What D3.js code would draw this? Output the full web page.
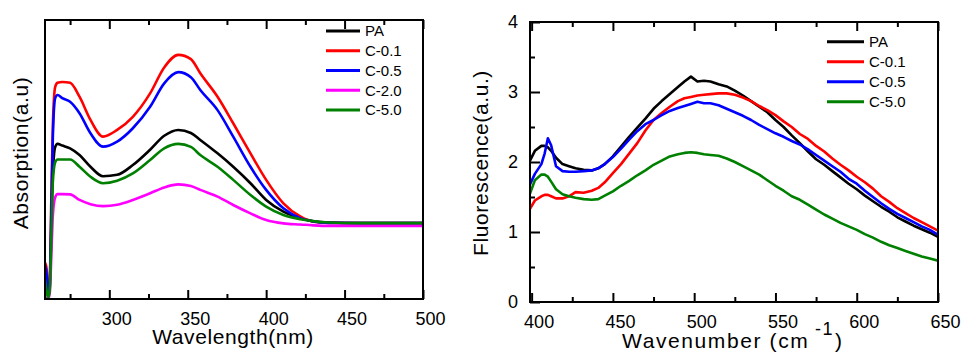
<!DOCTYPE html>
<html lang="en">
<head>
<meta charset="UTF-8">
<title>Absorption and fluorescence spectra</title>
<script src="https://d3js.org/d3.v7.min.js"></script>
<style>
  body { margin: 0; background: #fff; }
  svg { font-family: Arial, "Liberation Sans", sans-serif; }
  .tick text { font-size: 18px; fill: #000; }
  .tick line { stroke: #000; stroke-width: 2px; }
  .frame { fill: none; stroke: #000; stroke-width: 2px; }
  .curve { fill: none; stroke-width: 2.6px; stroke-linejoin: round; }
  .legend text { font-size: 15px; }
  .axis-title { font-size: 21px; letter-spacing: 0.6px; }
</style>
</head>
<body>
<svg width="966" height="358"></svg>
<script>
// ---- left panel: absorption spectra ----
const absWavelength = [259, 260, 261, 262, 263, 264, 265.5, 267, 270, 275, 281, 288, 296, 305, 315, 326, 335, 344, 352, 358, 369, 379, 390, 400, 411, 422, 430, 440, 460, 480, 500];
const absPA   = [0.08, 0.04, 0.01, 0.04, 0.25, 0.45, 0.545, 0.556, 0.55, 0.54, 0.516, 0.474, 0.44, 0.445, 0.48, 0.535, 0.585, 0.606, 0.595, 0.57, 0.522, 0.474, 0.415, 0.355, 0.313, 0.289, 0.279, 0.274, 0.272, 0.272, 0.272];
const absC01  = [0.13, 0.11, 0.02, 0.06, 0.35, 0.62, 0.76, 0.775, 0.778, 0.775, 0.725, 0.642, 0.582, 0.606, 0.653, 0.737, 0.83, 0.875, 0.86, 0.809, 0.725, 0.63, 0.522, 0.427, 0.343, 0.295, 0.277, 0.273, 0.272, 0.272, 0.272];
const absC05  = [0.12, 0.09, 0.01, 0.05, 0.30, 0.58, 0.72, 0.731, 0.72, 0.707, 0.666, 0.594, 0.546, 0.564, 0.612, 0.689, 0.773, 0.813, 0.795, 0.749, 0.677, 0.582, 0.474, 0.391, 0.325, 0.289, 0.278, 0.273, 0.272, 0.272, 0.272];
const absC20  = [0.01, 0.0, 0.0, 0.02, 0.15, 0.30, 0.365, 0.376, 0.376, 0.375, 0.355, 0.340, 0.333, 0.338, 0.355, 0.379, 0.400, 0.411, 0.405, 0.391, 0.367, 0.337, 0.307, 0.283, 0.271, 0.267, 0.264, 0.262, 0.262, 0.262, 0.262];
const absC50  = [0.07, 0.03, 0.005, 0.03, 0.22, 0.42, 0.49, 0.50, 0.50, 0.50, 0.474, 0.438, 0.415, 0.424, 0.45, 0.498, 0.54, 0.556, 0.545, 0.516, 0.474, 0.427, 0.373, 0.331, 0.301, 0.286, 0.279, 0.274, 0.272, 0.272, 0.272];
const absTicks = [300, 350, 400, 450, 500];
const absMinorTicks = [275, 325, 375, 425, 475];

// ---- right panel: fluorescence spectra ----
const fluWavenumber = [399, 402, 406, 408, 410, 412, 415, 419, 423, 427, 432, 437, 441, 445, 450, 455, 460, 465, 470, 475, 480, 485, 490, 494, 498, 502, 506, 510, 515, 520, 525, 530, 535, 540, 545, 550, 555, 560, 565, 570, 575, 580, 585, 590, 595, 600, 605, 610, 615, 620, 625, 630, 635, 640, 645, 650];
const fluPA  = [2.02, 2.16, 2.23, 2.23, 2.21, 2.16, 2.06, 1.97, 1.94, 1.91, 1.89, 1.88, 1.91, 1.97, 2.08, 2.22, 2.36, 2.49, 2.62, 2.76, 2.87, 2.97, 3.07, 3.15, 3.22, 3.15, 3.16, 3.15, 3.11, 3.08, 3.02, 2.95, 2.87, 2.79, 2.71, 2.60, 2.50, 2.38, 2.27, 2.15, 2.04, 1.96, 1.87, 1.78, 1.69, 1.61, 1.52, 1.44, 1.36, 1.29, 1.21, 1.15, 1.09, 1.04, 0.99, 0.93];
const fluC01 = [1.33, 1.45, 1.51, 1.53, 1.53, 1.51, 1.48, 1.48, 1.51, 1.57, 1.56, 1.59, 1.63, 1.71, 1.84, 1.97, 2.12, 2.27, 2.45, 2.60, 2.70, 2.79, 2.87, 2.91, 2.93, 2.95, 2.96, 2.97, 2.98, 2.98, 2.96, 2.92, 2.87, 2.80, 2.74, 2.67, 2.58, 2.50, 2.40, 2.33, 2.23, 2.15, 2.05, 1.96, 1.88, 1.79, 1.71, 1.62, 1.51, 1.43, 1.34, 1.27, 1.20, 1.14, 1.08, 1.02];
const fluC05 = [1.68, 1.83, 1.97, 2.12, 2.34, 2.24, 1.94, 1.87, 1.86, 1.86, 1.87, 1.88, 1.91, 1.97, 2.07, 2.19, 2.32, 2.44, 2.54, 2.60, 2.67, 2.73, 2.77, 2.80, 2.83, 2.86, 2.84, 2.84, 2.81, 2.76, 2.71, 2.66, 2.60, 2.53, 2.47, 2.41, 2.36, 2.30, 2.25, 2.18, 2.10, 2.02, 1.94, 1.86, 1.76, 1.69, 1.59, 1.50, 1.41, 1.33, 1.26, 1.20, 1.14, 1.08, 1.03, 0.96];
const fluC50 = [1.55, 1.74, 1.82, 1.82, 1.79, 1.72, 1.61, 1.54, 1.51, 1.49, 1.47, 1.46, 1.47, 1.52, 1.58, 1.66, 1.73, 1.81, 1.88, 1.96, 2.02, 2.08, 2.11, 2.13, 2.14, 2.13, 2.11, 2.10, 2.09, 2.05, 2.00, 1.94, 1.88, 1.82, 1.74, 1.66, 1.59, 1.51, 1.46, 1.39, 1.32, 1.25, 1.19, 1.13, 1.08, 1.03, 0.97, 0.92, 0.86, 0.81, 0.77, 0.73, 0.69, 0.65, 0.62, 0.59];
const fluXTicks = [400, 450, 500, 550, 600, 650];
const fluXMinorTicks = [425, 475, 525, 575, 625];
const fluYTicks = [0, 1, 2, 3, 4];
const fluYMinorTicks = [0.5, 1.5, 2.5, 3.5];

const svg = d3.select("svg");

function drawPanel(cfg) {
    const { box, xDomain, yDomain, series, xVals, curve, legend } = cfg;
    const x = d3.scaleLinear().domain(xDomain).range([box.x0, box.x1]);
    const y = d3.scaleLinear().domain(yDomain).range([box.y1, box.y0]);
    const g = svg.append("g");

    g.append("clipPath").attr("id", cfg.id + "-clip")
        .append("rect")
        .attr("x", box.x0).attr("y", box.y0)
        .attr("width", box.x1 - box.x0).attr("height", box.y1 - box.y0);

    // bottom major / minor ticks (inward)
    const bottom = g.append("g").attr("transform", `translate(0,${box.y1})`)
        .call(d3.axisBottom(x).tickValues(cfg.xTicks).tickSize(-9).tickPadding(13).tickFormat(d3.format("d")));
    bottom.select(".domain").remove();
    bottom.selectAll("text").attr("x", 7);
    g.append("g").attr("transform", `translate(0,${box.y1})`)
        .call(d3.axisBottom(x).tickValues(cfg.xMinor).tickSize(-5).tickFormat(""))
        .select(".domain").remove();

    // mirrored ticks on top
    g.append("g").attr("transform", `translate(0,${box.y0})`)
        .call(d3.axisTop(x).tickValues(cfg.xTicks).tickSize(-9).tickFormat(""))
        .select(".domain").remove();
    g.append("g").attr("transform", `translate(0,${box.y0})`)
        .call(d3.axisTop(x).tickValues(cfg.xMinor).tickSize(-5).tickFormat(""))
        .select(".domain").remove();

    if (cfg.yTicks) {
        g.append("g").attr("transform", `translate(${box.x0},0)`)
            .call(d3.axisLeft(y).tickValues(cfg.yTicks).tickSize(-10).tickPadding(12).tickFormat(d3.format("d")))
            .select(".domain").remove();
        g.append("g").attr("transform", `translate(${box.x0},0)`)
            .call(d3.axisLeft(y).tickValues(cfg.yMinor).tickSize(-5).tickFormat(""))
            .select(".domain").remove();
    }

    const line = d3.line()
        .x((d, i) => x(xVals[i]))
        .y(d => y(d))
        .curve(curve);

    g.append("g").attr("clip-path", `url(#${cfg.id}-clip)`)
        .selectAll("path")
        .data(series)
        .join("path")
        .attr("class", "curve")
        .attr("stroke", d => d.color)
        .attr("d", d => line(d.values));

    g.append("rect").attr("class", "frame")
        .attr("x", box.x0).attr("y", box.y0)
        .attr("width", box.x1 - box.x0).attr("height", box.y1 - box.y0);

    const lg = g.append("g").attr("class", "legend");
    series.forEach((s, i) => {
        const ly = legend.y + i * legend.step;
        lg.append("line")
            .attr("x1", legend.x).attr("x2", legend.x + legend.len)
            .attr("y1", ly).attr("y2", ly)
            .attr("stroke", s.color).attr("stroke-width", 3);
        lg.append("text")
            .attr("x", legend.x + legend.len + 5).attr("y", ly)
            .attr("dy", "0.36em")
            .text(s.name);
    });
}

drawPanel({
    id: "abs",
    box: { x0: 45, x1: 423, y0: 20, y1: 299 },
    xDomain: [259, 500],
    yDomain: [0, 1],
    xTicks: absTicks,
    xMinor: absMinorTicks,
    xVals: absWavelength,
    curve: d3.curveMonotoneX,
    series: [
        { name: "PA", color: "#000000", values: absPA },
        { name: "C-0.1", color: "#ff0000", values: absC01 },
        { name: "C-0.5", color: "#0000ff", values: absC05 },
        { name: "C-2.0", color: "#ff00ff", values: absC20 },
        { name: "C-5.0", color: "#008000", values: absC50 }
    ],
    legend: { x: 326, y: 31, step: 19.75, len: 34 }
});

drawPanel({
    id: "flu",
    box: { x0: 530, x1: 938, y0: 22, y1: 302 },
    xDomain: [399, 650],
    yDomain: [0, 4],
    xTicks: fluXTicks,
    xMinor: fluXMinorTicks,
    yTicks: fluYTicks,
    yMinor: fluYMinorTicks,
    xVals: fluWavenumber,
    curve: d3.curveLinear,
    series: [
        { name: "PA", color: "#000000", values: fluPA },
        { name: "C-0.1", color: "#ff0000", values: fluC01 },
        { name: "C-0.5", color: "#0000ff", values: fluC05 },
        { name: "C-5.0", color: "#008000", values: fluC50 }
    ],
    legend: { x: 827, y: 41.7, step: 20, len: 37 }
});

// axis titles
svg.append("text").attr("class", "axis-title")
    .attr("transform", "translate(28,153) rotate(-90)")
    .attr("text-anchor", "middle")
    .text("Absorption(a.u)");
svg.append("text").attr("class", "axis-title")
    .attr("x", 233).attr("y", 344)
    .attr("text-anchor", "middle")
    .text("Wavelength(nm)");
svg.append("text").attr("class", "axis-title")
    .attr("transform", "translate(488,163) rotate(-90)")
    .attr("text-anchor", "middle")
    .text("Fluorescence(a.u.)");

const wn = svg.append("text").attr("class", "axis-title")
    .attr("x", 622).attr("y", 348)
    .style("letter-spacing", "1.6px");
wn.append("tspan").text("Wavenumber (cm");
wn.append("tspan").attr("x", 815).attr("y", 335).style("font-size", "18px").text("-1");
wn.append("tspan").attr("x", 835).attr("y", 348).text(")");
</script>
</body>
</html>
